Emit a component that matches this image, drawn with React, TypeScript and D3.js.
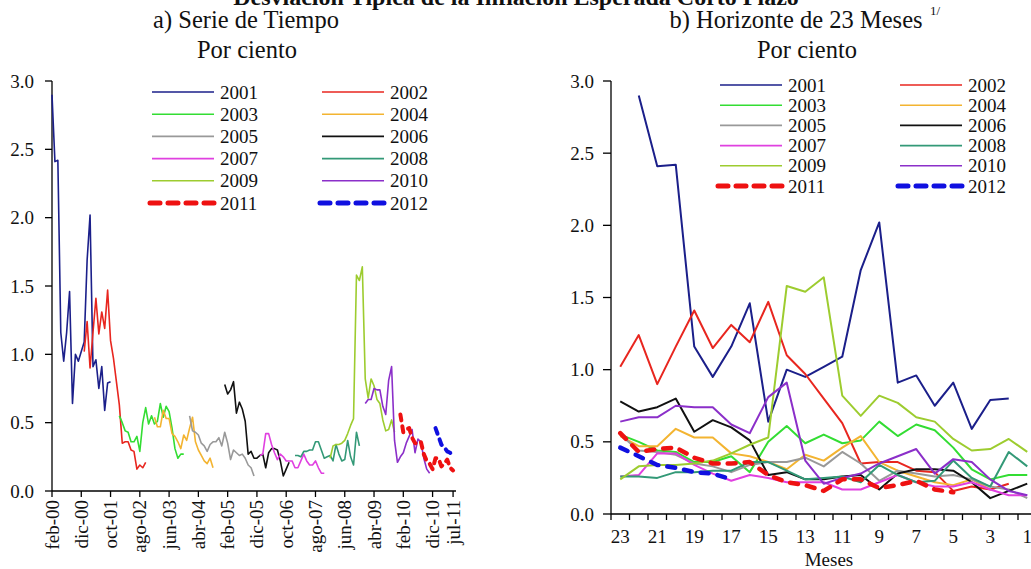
import React from 'react'
import * as d3 from 'd3'

const W = 1031
const H = 569

// horizons in months (right panel x categories, read right to left)
const horizons = [23, 22, 21, 20, 19, 18, 17, 16, 15, 14, 13, 12, 11, 10, 9, 8, 7, 6, 5, 4, 3, 2, 1]
const horizonLabels = [23, 21, 19, 17, 15, 13, 11, 9, 7, 5, 3, 1]

const years = [2001, 2002, 2003, 2004, 2005, 2006, 2007, 2008, 2009, 2010, 2011, 2012]
const yearColors = ['#1b1f8a', '#e8261f', '#33dd33', '#f3b431', '#999999', '#111111', '#e040e0', '#339977', '#9dcc2f', '#8b2fc9', '#ee1111', '#1010e0']
const dashedYears = [2011, 2012]

// std dev of expected inflation, by horizon 23..1
const s2001 = [null, 2.9, 2.41, 2.42, 1.16, 0.95, 1.16, 1.46, 0.64, 1.0, 0.95, 1.02, 1.09, 1.69, 2.02, 0.91, 0.96, 0.75, 0.91, 0.59, 0.79, 0.8, null]
const s2002 = [1.02, 1.24, 0.9, 1.16, 1.41, 1.15, 1.31, 1.19, 1.47, 1.1, 0.97, 0.8, 0.63, 0.35, 0.36, 0.36, 0.3, 0.29, 0.16, 0.19, 0.17, 0.21, null]
const s2003 = [0.55, 0.5, 0.44, 0.43, 0.36, 0.36, 0.4, 0.29, 0.5, 0.61, 0.49, 0.55, 0.49, 0.51, 0.64, 0.54, 0.62, 0.58, 0.46, 0.31, 0.24, 0.27, 0.27]
const s2004 = [0.54, 0.47, 0.47, 0.59, 0.53, 0.53, 0.42, 0.4, 0.36, 0.31, 0.41, 0.37, 0.46, 0.54, 0.36, 0.3, 0.26, 0.22, 0.2, 0.24, 0.17, null, null]
const s2005 = [0.55, 0.44, 0.43, 0.41, 0.35, 0.33, 0.29, 0.34, 0.36, 0.36, 0.39, 0.33, 0.43, 0.35, 0.23, 0.3, 0.28, 0.26, 0.27, 0.24, 0.19, 0.17, 0.11]
const s2006 = [0.78, 0.71, 0.74, 0.8, 0.57, 0.65, 0.6, 0.51, 0.27, 0.29, 0.24, 0.24, 0.26, 0.27, 0.17, 0.28, 0.31, 0.31, 0.3, 0.22, 0.11, 0.16, 0.21]
const s2007 = [0.26, 0.27, 0.42, 0.42, 0.34, 0.28, 0.23, 0.27, 0.25, 0.22, 0.22, 0.22, 0.17, 0.17, 0.22, 0.27, 0.22, 0.19, 0.19, 0.22, 0.17, 0.13, 0.13]
const s2008 = [0.26, 0.26, 0.25, 0.29, 0.29, 0.3, 0.3, 0.36, 0.36, 0.3, 0.24, 0.25, 0.26, 0.22, 0.34, 0.27, 0.22, 0.23, 0.37, 0.25, 0.19, 0.43, 0.33]
const s2009 = [0.24, 0.33, 0.34, 0.34, 0.35, 0.37, 0.42, 0.48, 0.53, 1.58, 1.54, 1.64, 0.82, 0.68, 0.82, 0.77, 0.67, 0.64, 0.52, 0.44, 0.45, 0.52, 0.43]
const s2010 = [0.64, 0.67, 0.67, 0.75, 0.74, 0.74, 0.62, 0.56, 0.81, 0.91, 0.37, 0.21, 0.25, 0.28, 0.35, 0.4, 0.45, 0.28, 0.38, 0.36, 0.24, 0.16, 0.13]
const s2011 = [0.56, 0.43, 0.45, 0.46, 0.39, 0.35, 0.35, 0.36, 0.27, 0.22, 0.2, 0.16, 0.24, 0.24, 0.18, 0.2, 0.23, 0.17, 0.15, null, null, null, null]
const s2012 = [0.46, 0.4, 0.34, 0.32, 0.29, 0.28, 0.24, null, null, null, null, null, null, null, null, null, null, null, null, null, null, null, null]
const seriesValues = [s2001, s2002, s2003, s2004, s2005, s2006, s2007, s2008, s2009, s2010, s2011, s2012]

// left panel time axis: months since feb-00
const timeTickLabels = ['feb-00', 'dic-00', 'oct-01', 'ago-02', 'jun-03', 'abr-04', 'feb-05', 'dic-05', 'oct-06', 'ago-07', 'jun-08', 'abr-09', 'feb-10', 'dic-10', 'jul-11']
const timeTickMonths = [0, 10, 20, 30, 40, 50, 60, 70, 80, 90, 100, 110, 120, 130, 137]

const yTicks = [0, 0.5, 1, 1.5, 2, 2.5, 3]
const font = '"Liberation Serif", "Times New Roman", serif'

type Pt = { x: number; v: number | null }

function Legend({ x1, x2, rowY, rowH }: { x1: number; x2: number; rowY: number; rowH: number }) {
  return (
    <g>
      {years.map((yr, i) => {
        const col = i % 2
        const row = Math.floor(i / 2)
        const lx = col === 0 ? x1 : x2
        const y = rowY + row * rowH
        const dashed = dashedYears.includes(yr)
        return (
          <g key={yr}>
            <line
              x1={dashed ? lx - 2 : lx}
              x2={dashed ? lx + 64 : lx + 62}
              y1={y}
              y2={y}
              stroke={yearColors[i]}
              strokeWidth={dashed ? 5 : 1.6}
              strokeDasharray={dashed ? '10 8' : undefined}
              strokeLinecap={dashed ? 'round' : 'butt'}
            />
            <text x={lx + 68} y={y + 6.5} fontSize={19} fontFamily={font} fill="#111">
              {yr}
            </text>
          </g>
        )
      })}
    </g>
  )
}

export default function App() {
  // left panel scales
  const xL = d3.scaleLinear().domain([0, 138]).range([52, 456])
  const yL = d3.scaleLinear().domain([0, 3]).range([491, 81])
  // right panel scales
  const xR = d3.scaleBand<number>().domain(horizons).range([611, 611 + 23 * 18.5])
  const yR = d3.scaleLinear().domain([0, 3]).range([514, 81])

  const lineL = d3
    .line<Pt>()
    .defined((d) => d.v != null)
    .x((d) => xL(d.x))
    .y((d) => yL(d.v as number))
  const lineR = d3
    .line<Pt>()
    .defined((d) => d.v != null)
    .x((d) => d.x)
    .y((d) => yR(d.v as number))

  return (
    <div style={{ position: 'fixed', left: 0, top: 0, width: W, height: H, background: '#fff' }}>
      <svg width={W} height={H} style={{ display: 'block' }} fontFamily={font}>
        <rect width={W} height={H} fill="#fff" />
        {/* main title, mostly clipped at top as in the source */}
        <text x={516} y={5} textAnchor="middle" fontSize={24} fontWeight="bold" fill="#111">
          Desviación Típica de la Inflación Esperada Corto Plazo
        </text>
        <text x={246} y={28} textAnchor="middle" fontSize={24.5} fill="#111">
          a) Serie de Tiempo
        </text>
        <text x={247} y={58} textAnchor="middle" fontSize={24.5} fill="#111">
          Por ciento
        </text>
        <text x={796} y={28} textAnchor="middle" fontSize={24.5} fill="#111">
          b) Horizonte de 23 Meses
        </text>
        <text x={930} y={15} fontSize={13} fill="#111">
          1/
        </text>
        <text x={807} y={58} textAnchor="middle" fontSize={24.5} fill="#111">
          Por ciento
        </text>

        {/* ---------- left panel ---------- */}
        <g>
          <line x1={52} x2={52} y1={yL(3)} y2={yL(0)} stroke="#000" strokeWidth={1.3} />
          <line x1={52} x2={456} y1={yL(0)} y2={yL(0)} stroke="#000" strokeWidth={1.3} />
          {yTicks.map((t) => (
            <g key={t}>
              <line x1={45} x2={52} y1={yL(t)} y2={yL(t)} stroke="#000" strokeWidth={1.3} />
              <text x={34} y={yL(t) + 6.5} textAnchor="end" fontSize={19} fill="#111">
                {t.toFixed(1)}
              </text>
            </g>
          ))}
          {timeTickMonths.map((m, i) => (
            <g key={m}>
              <line x1={xL(m)} x2={xL(m)} y1={yL(0)} y2={yL(0) + 6} stroke="#000" strokeWidth={1.3} />
              <text
                transform={`translate(${xL(m) + 6.5},${yL(0) + 9}) rotate(-90)`}
                textAnchor="end"
                fontSize={19}
                fill="#111"
              >
                {timeTickLabels[i]}
              </text>
            </g>
          ))}
          {years.map((yr, i) => {
            const dec = (yr - 2000) * 12 + 10
            const pts: Pt[] = horizons.map((h, j) => ({ x: dec - h, v: seriesValues[i][j] }))
            const dashed = dashedYears.includes(yr)
            return (
              <path
                key={yr}
                d={lineL(pts) || ''}
                fill="none"
                stroke={yearColors[i]}
                strokeWidth={dashed ? 4 : 1.6}
                strokeDasharray={dashed ? '6 6' : undefined}
                strokeLinecap={dashed ? 'round' : 'butt'}
                strokeLinejoin="round"
              />
            )
          })}
          <Legend x1={152} x2={322} rowY={92} rowH={22.2} />
        </g>

        {/* ---------- right panel ---------- */}
        <g>
          <line x1={611} x2={611} y1={yR(3)} y2={yR(0)} stroke="#000" strokeWidth={1.3} />
          <line x1={611} x2={W} y1={yR(0)} y2={yR(0)} stroke="#000" strokeWidth={1.3} />
          {yTicks.map((t) => (
            <g key={t}>
              <line x1={603} x2={611} y1={yR(t)} y2={yR(t)} stroke="#000" strokeWidth={1.3} />
              <text x={594} y={yR(t) + 6.5} textAnchor="end" fontSize={19} fill="#111">
                {t.toFixed(1)}
              </text>
            </g>
          ))}
          {horizons.map((h) => (
            <line
              key={h}
              x1={xR(h) as number}
              x2={xR(h) as number}
              y1={yR(0)}
              y2={yR(0) + 6}
              stroke="#000"
              strokeWidth={1.3}
            />
          ))}
          {horizonLabels.map((h) => (
            <text
              key={h}
              x={(xR(h) as number) + xR.bandwidth() / 2}
              y={yR(0) + 29}
              textAnchor="middle"
              fontSize={19}
              fill="#111"
            >
              {h}
            </text>
          ))}
          <text x={829} y={566} textAnchor="middle" fontSize={19} fill="#111">
            Meses
          </text>
          {years.map((yr, i) => {
            const pts: Pt[] = horizons.map((h, j) => ({
              x: (xR(h) as number) + xR.bandwidth() / 2,
              v: seriesValues[i][j],
            }))
            const dashed = dashedYears.includes(yr)
            return (
              <path
                key={yr}
                d={lineR(pts) || ''}
                fill="none"
                stroke={yearColors[i]}
                strokeWidth={dashed ? 4.5 : 2}
                strokeDasharray={dashed ? '8 9' : undefined}
                strokeLinecap={dashed ? 'round' : 'butt'}
                strokeLinejoin="round"
              />
            )
          })}
          <Legend x1={720} x2={900} rowY={85} rowH={20.2} />
        </g>
      </svg>
    </div>
  )
}
